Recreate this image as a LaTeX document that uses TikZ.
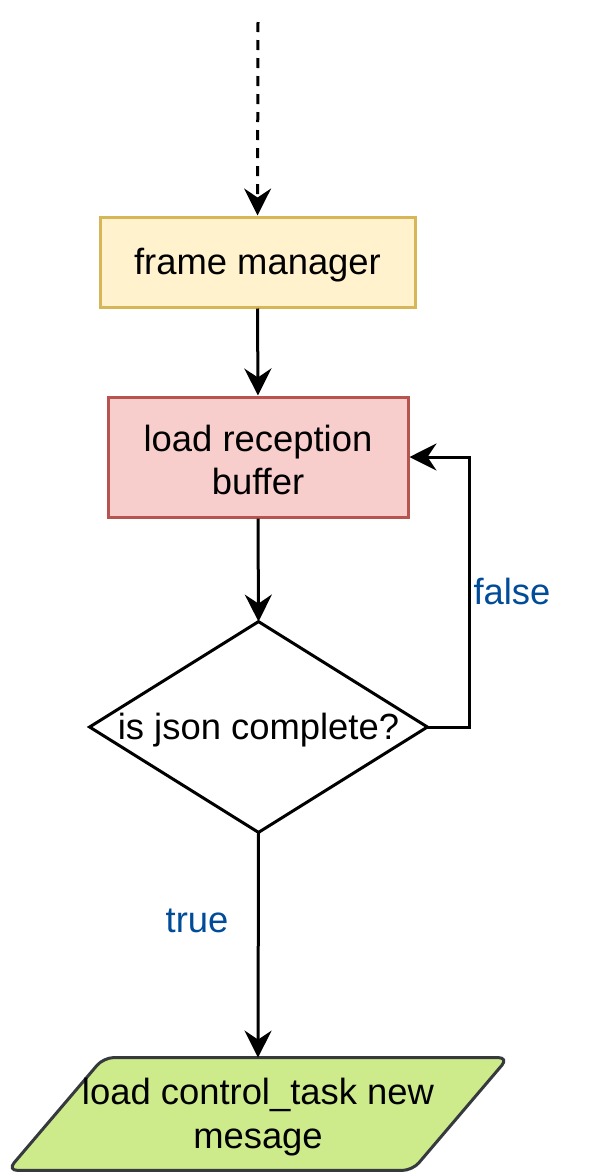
\documentclass[tikz,border=0pt]{standalone}
\usepackage{fontspec}
\setmainfont{Liberation Sans}
\usetikzlibrary{arrows.meta,calc}
\definecolor{ylwfill}{HTML}{FFF2CC}
\definecolor{ylwline}{HTML}{D6B656}
\definecolor{redfill}{HTML}{F8CECC}
\definecolor{redline}{HTML}{B85450}
\definecolor{grnfill}{HTML}{CDEB8B}
\definecolor{grnline}{HTML}{36393D}
\definecolor{lblblue}{HTML}{004C99}
\begin{document}
\begin{tikzpicture}[x=0.5pt,y=-0.5pt,
  every node/.style={font=\fontsize{18.2pt}{21.8pt}\selectfont, align=center, inner sep=0pt},
  procbox/.style={draw, line width=1.5pt, rectangle},
  conn/.style={line width=1.5pt, -{Stealth[length=13.5pt,width=13.5pt,inset=4.5pt]}},
  lbl/.style={text=lblblue},
  txtshift/.style={yshift=-1.5pt}]
\useasboundingbox (0,0) rectangle (606,1173);
\coordinate (src) at (258,22);
\node[procbox, fill=ylwfill, draw=ylwline, minimum width=157.5pt, minimum height=45pt] (fm) at (257.5,262) {};
\node[txtshift] (fmt) at (fm.center) {frame manager};
\node[procbox, fill=redfill, draw=redline, minimum width=150pt, minimum height=60pt] (lrb) at (258,457) {};
\node[txtshift] (lrbt) at (lrb.center) {load reception\\buffer};
\node[minimum width=168.5pt, minimum height=105pt] (dec) at (258.5,727) {};
\draw[line width=1.5pt, fill=white] (dec.north) -- (dec.east) -- (dec.south) -- (dec.west) -- cycle;
\node[txtshift] (dect) at (dec.center) {is json complete?};
\node[minimum width=202pt, minimum height=56pt] (out) at (258,1114) {};
\draw[line width=1.5pt, draw=grnline, fill=grnfill, rounded corners=5pt]
  ($(out.north west)+(48,0)$) -- ($(out.north east)+(48,0)$) -- ($(out.south east)+(-48,0)$) -- ($(out.south west)+(-48,0)$) -- cycle;
\node[txtshift] (outt) at (out.center) {load control\_task new\\mesage};
\coordinate (loopT) at (469,457);
\coordinate (loopB) at (469,727);
\draw[conn, dash pattern=on 5pt off 4pt] (src) -- (fm.north);
\draw[conn] (fm.south) -- (lrb.north);
\draw[conn] (lrb.south) -- (dec.north);
\draw[conn] (dec.east) -- (loopB) -- (loopT) -- (lrb.east);
\draw[conn] (dec.south) -- (out.north);
\node[lbl] (lf) at (512,591) {false};
\node[lbl] (lt) at (197,921) {true};
\end{tikzpicture}
\end{document}
